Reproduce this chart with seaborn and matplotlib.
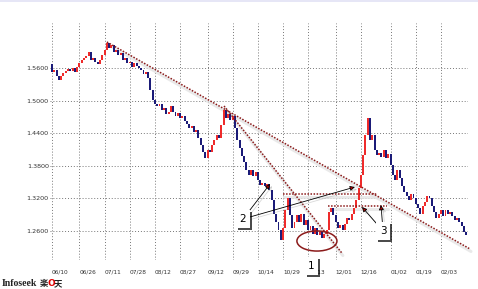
import matplotlib
matplotlib.use("Agg")
import matplotlib.pyplot as plt
import matplotlib.patheffects as pe
import matplotlib.transforms as mtransforms
from matplotlib.patches import Ellipse, Rectangle
import numpy as np
import pandas as pd
import seaborn as sns

# ---------------- data ----------------
start_date = "2008-06-10"
first_open = 1.5674
closes = [
    1.5526, 1.5563, 1.5453, 1.5379, 1.5453, 1.5508, 1.5545, 1.5582, 1.5545, 1.5600,
    1.5526, 1.5618, 1.5692, 1.5747, 1.5784, 1.5821, 1.5895, 1.5747, 1.5784, 1.5711,
    1.5674, 1.5747, 1.5840, 1.5932, 1.6061, 1.5968, 1.6024, 1.5895, 1.5932, 1.5840,
    1.5876, 1.5747, 1.5784, 1.5692, 1.5711, 1.5618, 1.5692, 1.5637, 1.5600, 1.5563,
    1.5490, 1.5526, 1.5416, 1.5195, 1.5010, 1.4937, 1.4900, 1.4937, 1.4826, 1.4863,
    1.4753, 1.4790, 1.4900, 1.4790, 1.4716, 1.4771, 1.4679, 1.4716, 1.4623, 1.4568,
    1.4494, 1.4531, 1.4420, 1.4457, 1.4310, 1.4181, 1.4052, 1.3941, 1.4089, 1.4052,
    1.4181, 1.4273, 1.4365, 1.4310, 1.4550, 1.4826, 1.4679, 1.4753, 1.4642, 1.4716,
    1.4494, 1.4273, 1.4126, 1.3978, 1.3868, 1.3720, 1.3628, 1.3720, 1.3610, 1.3684,
    1.3536, 1.3444, 1.3481, 1.3426, 1.3462, 1.3352, 1.3167, 1.2910, 1.2762, 1.2615,
    1.2430, 1.2652, 1.2983, 1.3204, 1.2891, 1.2652, 1.2762, 1.2891, 1.2762, 1.2910,
    1.2707, 1.2799, 1.2615, 1.2689, 1.2541, 1.2652, 1.2522, 1.2578, 1.2467, 1.2541,
    1.2615, 1.2946, 1.3020, 1.2891, 1.2762, 1.2652, 1.2707, 1.2615, 1.2725, 1.2836,
    1.2799, 1.2910, 1.3020, 1.3167, 1.3389, 1.3628, 1.3997, 1.4365, 1.4679, 1.4273,
    1.4365, 1.4089, 1.3997, 1.4034, 1.3960, 1.4089, 1.3941, 1.4015, 1.3812, 1.3628,
    1.3536, 1.3720, 1.3573, 1.3426, 1.3315, 1.3241, 1.3167, 1.3278, 1.3204, 1.3094,
    1.3020, 1.2910, 1.3057, 1.3131, 1.3241, 1.3204, 1.3057, 1.2946, 1.2836, 1.2910,
    1.2983, 1.2873, 1.2983, 1.2910, 1.2946, 1.2873, 1.2799, 1.2836, 1.2762, 1.2689,
    1.2578, 1.2522,
]
tick_labels = ["06/10", "06/26", "07/11", "07/28", "08/12", "08/27", "09/12", "09/29",
               "10/14", "10/29", "11/13", "12/01", "12/16", "01/02", "01/19", "02/03"]
tick_dates = ["2008-06-10", "2008-06-26", "2008-07-11", "2008-07-28", "2008-08-12",
              "2008-08-27", "2008-09-12", "2008-09-29", "2008-10-14", "2008-10-29",
              "2008-11-13", "2008-12-01", "2008-12-16", "2009-01-02", "2009-01-19",
              "2009-02-03"]
y_ticks = [1.26, 1.32, 1.38, 1.44, 1.50, 1.56]
y_tick_labels = ["1.2600", "1.3200", "1.3800", "1.4400", "1.5000", "1.5600"]

# analyst drawings: (candle index, price) anchors
trend_main = [(24.0, 1.6079), (182.7, 1.2265)]
trend_steep = [(75.2, 1.4900), (126.7, 1.2190)]
level_a = [(101.0, 1.3278), (142.0, 1.3278)]
level_b = [(120.6, 1.3057), (146.4, 1.3057)]
circle_1 = (115.8, 1.2412)
label_1 = (113.4, 1.1951)
label_2 = (83.5, 1.2818)
arrows_2 = [(95.3, 1.3462), (132.4, 1.3407)]
label_3 = (144.7, 1.2596)
arrows_3 = [(135.5, 1.3039), (143.8, 1.3075)]

# ---------------- build ----------------
dates = pd.bdate_range(start_date, periods=len(closes))
opens = [first_open] + closes[:-1]
df = pd.DataFrame({"idx": np.arange(len(closes)), "open": opens, "close": closes})
df["up"] = df["close"] >= df["open"]
tick_pos = [dates.get_loc(pd.Timestamp(d)) for d in tick_dates]

sns.set_theme(style="white")
plt.rcParams["font.family"] = ["DejaVu Sans"]

W, H = 478, 289
fig = plt.figure(figsize=(W / 100, H / 100), dpi=100)
fig.patch.set_facecolor("white")
ax = fig.add_axes([49.9 / W, 29 / H, (468.4 - 49.9) / W, 237 / H])
ax.set_facecolor("white")
ax.set_xlim(-0.9, 182)
ax.set_ylim(1.2062, 1.6429)
for s in ax.spines.values():
    s.set_visible(False)

ax.set_xticks(tick_pos)
ax.set_xticklabels(tick_labels, ha="left", fontsize=4.2, color="#333333")
ax.set_yticks(y_ticks)
ax.set_yticklabels(y_tick_labels, fontsize=4.6, color="#333333")
ax.tick_params(axis="x", length=0, pad=7.0)
ax.tick_params(axis="y", length=0, pad=0.8)
ax.grid(True, color="#777777", linestyle=(0, (1, 2)), linewidth=0.7)
ax.set_axisbelow(True)

# candles
up_c, dn_c = "#ee2b2b", "#1b1b78"
cols = [up_c if u else dn_c for u in df["up"]]
bottoms = np.minimum(df["open"], df["close"])
heights = np.abs(df["close"] - df["open"])
ax.bar(df["idx"], heights, bottom=bottoms, width=0.85, color=cols, linewidth=0, zorder=3)

# trend lines with soft shadow
shadow_tr = mtransforms.offset_copy(ax.transData, fig=fig, x=1.0, y=-2.5, units="dots")
line_red = "#8b1a1a"
for seg in [trend_main, trend_steep, level_a, level_b]:
    xs = [p[0] for p in seg]
    ys = [p[1] for p in seg]
    ax.plot(xs, ys, color="#e4e4e4", lw=2.2, alpha=0.8, transform=shadow_tr,
            zorder=2, clip_on=False, solid_capstyle="round")
    sns.lineplot(x=xs, y=ys, ax=ax, color=line_red, lw=1.1, linestyle=(0, (1, 1)),
                 zorder=5, estimator=None, sort=False)
for l in ax.lines:
    l.set_clip_on(False)

ell = Ellipse(circle_1, width=17.5, height=0.037, fill=False, ec=line_red, lw=1.1, zorder=5)
ax.add_patch(ell)

# arrows
def arrow(src, dst):
    a = ax.annotate("", xy=dst, xytext=src,
                    arrowprops=dict(arrowstyle="-|>", fc="#c00000", ec="black", lw=0.6,
                                    mutation_scale=7, shrinkA=0, shrinkB=0),
                    zorder=6, annotation_clip=False)
    a.arrow_patch.set_path_effects([pe.SimpleLineShadow(offset=(1.5, -1.5), shadow_color="gray", alpha=0.3),
                                    pe.Normal()])

for dst in arrows_2:
    arrow(label_2, dst)
for dst in arrows_3:
    arrow(label_3, dst)

def label(pos, txt):
    t = ax.text(pos[0], pos[1], txt, fontsize=7.5, ha="center", va="center", color="black",
                bbox=dict(boxstyle="square,pad=0.35", fc="white", ec="none"),
                zorder=7, clip_on=False)
    t.get_bbox_patch().set_path_effects([pe.withSimplePatchShadow(offset=(1.5, -1.5),
                                                                   shadow_rgbFace="black", alpha=0.7)])

label(label_1, "1")
label(label_2, "2")
label(label_3, "3")

# top band
fig.patches.append(Rectangle((0, 1 - 2 / H), 1, 2 / H, transform=fig.transFigure,
                             facecolor="#e6e6f6", edgecolor="none"))

# logo
fig.text(2 / W, 3 / H, "Infoseek", family="Liberation Serif", fontsize=7, weight="bold",
         color="#222222", va="baseline")
fig.text(40 / W, 3 / H, "楽", family=["Noto Sans CJK JP"], fontsize=6, weight="bold",
         color="#222222", va="baseline")
fig.text(47.5 / W, 3 / H, "O", family="DejaVu Sans", fontsize=6.5, weight="bold",
         color="#e00000", va="baseline")
fig.text(54 / W, 3 / H, "天", family=["Noto Sans CJK JP"], fontsize=6, weight="bold",
         color="#222222", va="baseline")

fig.savefig("out.png", dpi=100)
